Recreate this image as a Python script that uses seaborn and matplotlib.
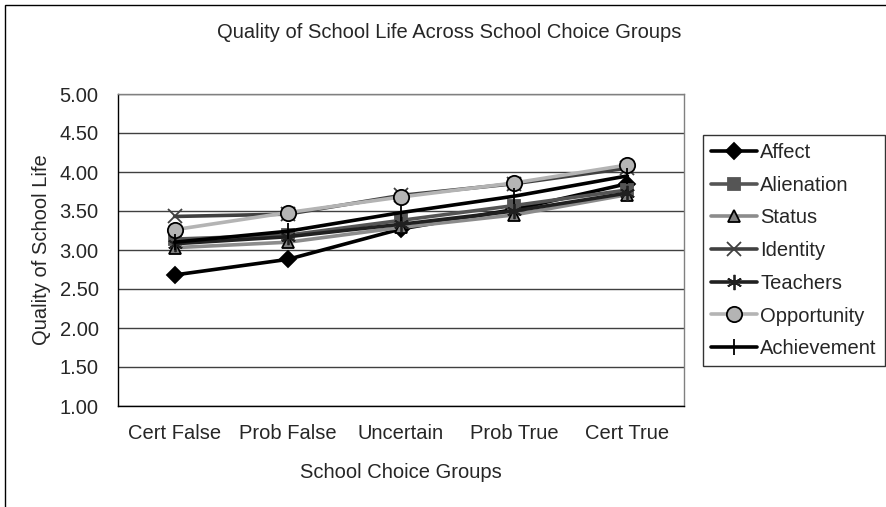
import matplotlib
matplotlib.use("Agg")
import matplotlib.pyplot as plt
from matplotlib.patches import Rectangle
import seaborn as sns
import pandas as pd

groups = ["Cert False", "Prob False", "Uncertain", "Prob True", "Cert True"]

affect = [2.68, 2.88, 3.27, 3.52, 3.85]
alienation = [3.14, 3.19, 3.38, 3.57, 3.77]
status = [3.03, 3.10, 3.29, 3.45, 3.71]
identity = [3.43, 3.46, 3.70, 3.85, 4.05]
teachers = [3.08, 3.17, 3.33, 3.50, 3.73]
opportunity = [3.26, 3.48, 3.68, 3.86, 4.09]
achievement = [3.10, 3.24, 3.48, 3.69, 3.95]

series = {
    "Affect": affect,
    "Alienation": alienation,
    "Status": status,
    "Identity": identity,
    "Teachers": teachers,
    "Opportunity": opportunity,
    "Achievement": achievement,
}

# line colour, marker, face colour, edge colour, marker size
styles = {
    "Affect": ("#000000", "D", "#000000", "#000000", 8),
    "Alienation": ("#555555", "s", "#555555", "#555555", 9),
    "Status": ("#8c8c8c", "^", "#808080", "#000000", 9),
    "Identity": ("#404040", "x", "none", "#404040", 10),
    "Teachers": ("#202020", (6, 2, 0), "none", "#202020", 11),
    "Opportunity": ("#b4b4b4", "o", "#b4b4b4", "#000000", 11),
    "Achievement": ("#000000", "|", "none", "#000000", 11),
}

rows = []
for name, vals in series.items():
    for g, v in zip(groups, vals):
        rows.append({"scale": name, "group": g, "score": v})
df = pd.DataFrame(rows)

sns.set_style("white")
plt.rcParams["font.family"] = ["Liberation Sans", "DejaVu Sans"]
FS = 14.5

fig = plt.figure(figsize=(8.86, 5.07), dpi=100)
ax = fig.add_axes([118 / 886, 1 - 406 / 507, (684 - 118) / 886, (406 - 94) / 507])

for name in series:
    color, marker, mfc, mec, ms = styles[name]
    sns.lineplot(data=df[df["scale"] == name], x="group", y="score", ax=ax,
                 color=color, marker=marker, markerfacecolor=mfc,
                 markeredgecolor=mec, markersize=ms, markeredgewidth=1.3,
                 linewidth=2.6, label=name, sort=False)

ax.set_ylim(1.0, 5.0)
ax.set_yticks([1.0, 1.5, 2.0, 2.5, 3.0, 3.5, 4.0, 4.5, 5.0])
ax.set_yticklabels([f"{v:.2f}" for v in ax.get_yticks()], fontsize=FS)
ax.set_xlim(-0.5, 4.5)
ax.set_xticks(range(len(groups)))
ax.set_xticklabels(groups, fontsize=FS)
ax.set_xticks([i - 0.5 for i in range(len(groups) + 1)], minor=True)
ax.tick_params(axis="x", which="major", length=0, pad=13)
ax.tick_params(axis="x", which="minor", length=5, width=1, color="#000000", direction="out")
ax.tick_params(axis="y", length=0, pad=14)
ax.yaxis.grid(True, color="#404040", linewidth=1)
ax.set_axisbelow(True)

for side in ["left", "bottom"]:
    ax.spines[side].set_color("#000000")
    ax.spines[side].set_linewidth(1)
for side in ["top", "right"]:
    ax.spines[side].set_visible(True)
    ax.spines[side].set_color("#808080")
    ax.spines[side].set_linewidth(1)

ax.set_xlabel("School Choice Groups", fontsize=FS, labelpad=14)
ax.set_ylabel("Quality of School Life", fontsize=FS, labelpad=6)
fig.text(449 / 886, 1 - 32 / 507, "Quality of School Life Across School Choice Groups",
         ha="center", va="center", fontsize=FS)

leg = ax.legend(loc="upper left", bbox_to_anchor=(703 / 886, 1 - 135 / 507),
                bbox_transform=fig.transFigure, frameon=True, fancybox=False,
                fontsize=FS, handlelength=2.3, handletextpad=0.15,
                borderpad=0.4, labelspacing=0.68, borderaxespad=0)
leg.get_frame().set_edgecolor("#000000")
leg.get_frame().set_linewidth(1)

fig.patches.append(Rectangle((5 / 886, -0.1), 1.2, 1 - 5 / 507 + 0.1,
                             transform=fig.transFigure, fill=False,
                             edgecolor="#000000", linewidth=1))

fig.savefig("out.png", dpi=100)
